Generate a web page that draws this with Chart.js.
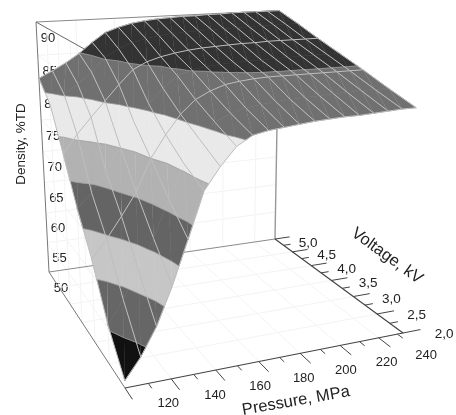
<!DOCTYPE html>
<html>
<head>
<meta charset="utf-8">
<title>Density surface</title>
<script src="https://cdn.jsdelivr.net/npm/chart.js@4"></script>
<style>
  html, body { margin: 0; padding: 0; background: #fff; }
  #chart { display: block; filter: blur(0.35px); }
</style>
</head>
<body>
<canvas id="chart" width="456" height="415"></canvas>
<script>
/* DATA */
const pressures = [100,107,114,121,128,135,142,149,156,163,170,177,184,191,198,205,212,219,226,233];
const voltages = [2.0,2.5,3.0,3.5,4.0,4.5,5.0];

const density20 = [51,53.8,57.5,62.5,68.3,74.2,77,79.3,80.5,80.9,81.1,81.3,81.5,81.6,81.7,81.7,81.8,81.9,82,82];
const density25 = [55.5,58.7,62.4,66.4,71.4,75.8,78.8,80.8,81.8,82.3,82.6,82.8,82.9,83,83.1,83.2,83.2,83.3,83.3,83.3];
const density30 = [62,64.6,67.5,70.6,75,78,80.6,82.4,83.4,84.1,84.4,84.6,84.7,84.7,84.7,84.7,84.7,84.7,84.7,84.7];
const density35 = [67,69,71.8,75.2,78.3,80.8,82.8,84.4,85.1,85.4,85.6,85.7,85.8,85.8,85.9,85.9,86,86,86,86];
const density40 = [73,75.7,78,80.2,82.4,84.4,85.4,86,86.4,86.7,86.9,87,87.1,87.2,87.2,87.3,87.3,87.3,87.3,87.3];
const density45 = [78.8,80.2,81.5,83.2,85.2,86.4,87.2,87.7,88,88.2,88.3,88.4,88.5,88.5,88.6,88.6,88.7,88.7,88.7,88.7];
const density50 = [81.5,82.5,83.6,84.9,86.5,87.9,88.6,89.1,89.4,89.6,89.7,89.8,89.8,89.9,89.9,90,90,90,90,90];
const densityRows = [density20, density25, density30, density35, density40, density45, density50];

const pressureTicks = [120,140,160,180,200,220,240];
const voltageTicks = [2.0,2.5,3.0,3.5,4.0,4.5,5.0];
const voltageLabels = ["2,0","2,5","3,0","3,5","4,0","4,5","5,0"];
const densityTicks = [50,55,60,65,70,75,80,85,90];
const bandLevels = [50,55,60,65,70,75,80,85,90];
const bandColors = ["#111111","#666666","#c6c6c6","#646464","#b2b2b2","#e9e9e9","#707070","#333333"];
const meshVoltages = [3.0,4.0];

/* PROJECTION - floor corners and vertical vanishing point */
const pMin = 100, pMax = 233, vMin = 2, vMax = 5, zMin = 50, zMax = 90;
const F = [[125,388],[403,333],[275,239],[49,272]];
const vpX = 217, vpY = 3510, topLeftY = 22;

const dx1 = F[1][0]-F[2][0], dx2 = F[3][0]-F[2][0], sx = F[0][0]-F[1][0]+F[2][0]-F[3][0];
const dy1 = F[1][1]-F[2][1], dy2 = F[3][1]-F[2][1], sy = F[0][1]-F[1][1]+F[2][1]-F[3][1];
const den = dx1*dy2-dx2*dy1;
const g = (sx*dy2-dx2*sy)/den, h = (dx1*sy-sx*dy1)/den;
const a = F[1][0]-F[0][0]+g*F[1][0], b = F[3][0]-F[0][0]+h*F[3][0], c = F[0][0];
const d = F[1][1]-F[0][1]+g*F[1][1], e = F[3][1]-F[0][1]+h*F[3][1], f = F[0][1];
const iz = (topLeftY-F[3][1])*(h+1)/(vpY-topLeftY);

function project(p, v, z) {
  let u = (p-pMin)/(pMax-pMin), t = (v-vMin)/(vMax-vMin), w = (z-zMin)/(zMax-zMin);
  let W = g*u+h*t+1+iz*w;
  return { x: (a*u+b*t+c+iz*w*vpX)/W, y: (d*u+e*t+f+iz*w*vpY)/W };
}

/* DATASETS */
let sets = [];

function addLine(pts, color, width) {
  sets.push({ data: pts.map(q => project(q[0],q[1],q[2])), showLine: true, fill: false,
    borderColor: color, borderWidth: width, pointRadius: 0, tension: 0 });
}

function addPoly(pts, color) {
  sets.push({ data: pts.map(q => project(q.p,q.v,q.z)), showLine: true, fill: "shape",
    backgroundColor: color, borderColor: color, borderWidth: 0.6, pointRadius: 0, tension: 0 });
}

/* faint walls and floor */
const gridColor = "#f3f3f3";
pressureTicks.slice(0,6).forEach(p => {
  addLine([[p,vMin,zMin],[p,vMax,zMin]], gridColor, 1);
  addLine([[p,vMax,zMin],[p,vMax,zMax]], gridColor, 1);
});
voltageTicks.slice(1,6).forEach(v => {
  addLine([[pMin,v,zMin],[pMax,v,zMin]], gridColor, 1);
  addLine([[pMin,v,zMin],[pMin,v,zMax]], gridColor, 1);
});
densityTicks.slice(1,8).forEach(z => {
  addLine([[pMin,vMax,z],[pMax,vMax,z]], gridColor, 1);
  addLine([[pMin,vMin,z],[pMin,vMax,z]], gridColor, 1);
});

/* box */
addLine([[pMin,vMax,zMin],[pMax,vMax,zMin]], "#8a8a8a", 1);
addLine([[pMin,vMax,zMin],[pMin,vMax,zMax]], "#777777", 1);
addLine([[pMax,vMax,zMin],[pMax,vMax,zMax]], "#999999", 1.4);
addLine([[pMin,vMax,zMax],[pMax,vMax,zMax]], "#888888", 1);
addLine([[pMin,vMax,zMax],[pMin,vMin,zMax]], "#666666", 1);
addLine([[pMin,vMin,zMin],[pMin,vMax,zMin]], "#777777", 1);
addLine([[pMin,vMin,zMin],[pMax,vMin,zMin]], "#444444", 1.2);
addLine([[pMax,vMin,zMin],[pMax,vMax,zMin]], "#444444", 1.2);

/* ticks */
for (let p = 100; p <= 230; p += 10) {
  let major = p % 20 == 0;
  addLine([[p,vMin,zMin],[p,vMin-(major ? 0.22 : 0.1),zMin]], "#444444", 1);
}
for (let v = 2; v <= 5; v += 0.25) {
  let major = v % 0.5 == 0;
  addLine([[pMax,v,zMin],[pMax+(major ? 9.5 : 4.5),v,zMin]], "#444444", 1);
}

/* surface, back to front, clipped into density bands */
function clip(poly, level, keepAbove) {
  let out = [];
  poly.forEach((cur, i) => {
    let next = poly[(i+1)%poly.length];
    let curIn = keepAbove ? cur.z >= level : cur.z <= level;
    let nextIn = keepAbove ? next.z >= level : next.z <= level;
    if (curIn) out.push(cur);
    if (curIn != nextIn) {
      let k = (level-cur.z)/(next.z-cur.z);
      out.push({ p: cur.p+k*(next.p-cur.p), v: cur.v+k*(next.v-cur.v), z: level });
    }
  });
  return out;
}

function node(i, j) {
  return { p: pressures[i], v: voltages[j], z: densityRows[j][i] };
}

let contours = [];

function addTriangle(tri) {
  bandColors.forEach((color, k) => {
    let lo = bandLevels[k];
    let poly = clip(clip(tri, lo, true), bandLevels[k+1], false);
    if (poly.length < 3) return;
    addPoly(poly, color);
    poly.forEach((q, i) => {
      let next = poly[(i+1)%poly.length];
      if (k > 0 && q.z == lo && next.z == lo) contours.push([[q.p,q.v,lo],[next.p,next.v,lo]]);
    });
  });
}

for (let j = voltages.length-2; j >= 0; j--) {
  for (let i = pressures.length-2; i >= 0; i--) {
    addTriangle([node(i,j),node(i+1,j),node(i+1,j+1)]);
    addTriangle([node(i,j),node(i+1,j+1),node(i,j+1)]);
  }
}

contours.forEach(seg => addLine(seg, "#9a9a9a", 0.8));

/* mesh lines on the surface */
const meshColor = "#bdbdbd";
pressures.forEach((p, i) => {
  addLine(voltages.map((v, j) => [p, v, densityRows[j][i]]), meshColor, 1);
});
meshVoltages.forEach(v => {
  let j = voltages.indexOf(v);
  addLine(pressures.map((p, i) => [p, v, densityRows[j][i]]), meshColor, 1);
});
addLine(pressures.map((p, i) => [p, vMin, density20[i]]), meshColor, 1);
addLine(pressures.map((p, i) => [p, vMax, density50[i]]), meshColor, 1);

/* first dataset has to be painted first */
sets.forEach((s, i) => { s.order = -i; });

/* TEXT */
function text(ctx, str, x, y, size, angle) {
  ctx.save();
  ctx.translate(x, y);
  ctx.rotate((angle || 0)*Math.PI/180);
  ctx.font = size + "px 'Liberation Sans', Arial, sans-serif";
  ctx.fillStyle = "#222222";
  ctx.textAlign = "center";
  ctx.textBaseline = "middle";
  ctx.fillText(str, 0, 0);
  ctx.restore();
}

/* density labels sit on the wall, the surface covers some of them */
const wallLabels = {
  id: "wallLabels",
  beforeDatasetsDraw(chart) {
    densityTicks.forEach(z => {
      let q = project(pMin, vMax, z);
      text(chart.ctx, String(z), q.x+12, q.y+16, 13);
    });
  }
};

const axisLabels = {
  id: "axisLabels",
  afterDatasetsDraw(chart) {
    let ctx = chart.ctx;
    pressureTicks.forEach(p => {
      let q = project(p, vMin, zMin);
      text(ctx, String(p), q.x-3+11*(p-120)/100, q.y+25, 13);
    });
    voltageTicks.forEach((v, i) => {
      let q = project(pMax+22, v, zMin);
      text(ctx, voltageLabels[i], q.x+1-0.5*(v-2), q.y+9, 13.5);
    });
    text(ctx, "Density, %TD", 21, 144, 13.5, -90);
    text(ctx, "Pressure, MPa", 296, 401, 16.5, -10);
    text(ctx, "Voltage, kV", 387, 256, 16.5, 36);
  }
};

/* CHART */
new Chart(document.getElementById("chart"), {
  type: "scatter",
  data: { datasets: sets },
  options: {
    responsive: false,
    animation: false,
    events: [],
    layout: { padding: 0 },
    plugins: { legend: { display: false }, tooltip: { enabled: false } },
    scales: {
      x: { type: "linear", min: 0, max: 456, display: false },
      y: { type: "linear", min: 0, max: 415, reverse: true, display: false }
    }
  },
  plugins: [wallLabels, axisLabels]
});
</script>
</body>
</html>
